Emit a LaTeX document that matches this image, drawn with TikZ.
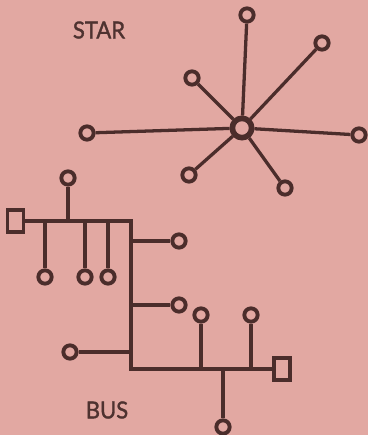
\documentclass[tikz,border=0pt]{standalone}
\usepackage{fontspec}
\setmainfont{Lato}
\newfontfamily\lblfont[FakeBold=1.5]{Lato}
\definecolor{bg}{HTML}{E2A8A2}
\definecolor{ink}{HTML}{4B2D2B}
\definecolor{txt}{HTML}{4E3230}
\begin{document}
\begin{tikzpicture}[x=0.03cm,y=-0.03cm,
  term/.style={circle,draw=ink,line width=3.3pt,minimum size=0.4cm,inner sep=0pt},
  hubnode/.style={circle,draw=ink,line width=4.8pt,minimum size=0.58cm,inner sep=0pt},
  endbox/.style={rectangle,draw=ink,line width=2.8pt,minimum width=0.48cm,minimum height=0.66cm,inner sep=0pt},
  spoke/.style={draw=ink,line width=2.8pt},
  bus/.style={draw=ink,line width=4.2pt},
  stub/.style={draw=ink,line width=2.8pt},
  lbl/.style={text=txt,font=\lblfont\fontsize{20}{24}\selectfont,xscale=0.94}]
\fill[bg] (0,0) rectangle (368,435);
\useasboundingbox (0,0) rectangle (368,435);
% labels
\node[lbl] (star) at (99,30) {STAR};
\node[lbl] (buslbl) at (107,410) {BUS};
% star
\node[hubnode] (hub) at (242,128) {};
\node[term] (t1) at (247,15) {};
\node[term] (t2) at (322,43) {};
\node[term] (t3) at (192,78) {};
\node[term] (t4) at (87,133) {};
\node[term] (t5) at (359,135) {};
\node[term] (t6) at (189,175) {};
\node[term] (t7) at (285,188) {};
\foreach \n in {t1,t2,t3,t4,t5,t6,t7} \draw[spoke] (hub) -- (\n);
% bus
\node[endbox] (lbox) at (15.5,221) {};
\node[endbox] (rbox) at (282,369) {};
\coordinate (jA) at (131,221);
\coordinate (jB) at (131,369);
\draw[bus,line join=miter] (lbox) -- (jA) -- (jB) -- (rbox);
% stubs on upper bus
\node[term] (u1) at (68,178) {};
\node[term] (d1) at (45,277) {};
\node[term] (d2) at (85,277) {};
\node[term] (d3) at (108,277) {};
\coordinate (s1) at (68,221);
\coordinate (s2) at (45,221);
\coordinate (s3) at (85,221);
\coordinate (s4) at (108,221);
\draw[stub] (s1) -- (u1);
\draw[stub] (s2) -- (d1);
\draw[stub] (s3) -- (d2);
\draw[stub] (s4) -- (d3);
% stubs on vertical bus
\node[term] (r1) at (179,241) {};
\node[term] (r2) at (179,305) {};
\node[term] (l1) at (70,352) {};
\coordinate (v1) at (131,241);
\coordinate (v2) at (131,305);
\coordinate (v3) at (131,352);
\draw[stub] (v1) -- (r1);
\draw[stub] (v2) -- (r2);
\draw[stub] (v3) -- (l1);
% stubs on lower bus
\node[term] (b1) at (201,315) {};
\node[term] (b2) at (251,315) {};
\node[term] (b3) at (223,427) {};
\coordinate (w1) at (201,369);
\coordinate (w2) at (251,369);
\coordinate (w3) at (223,369);
\draw[stub] (w1) -- (b1);
\draw[stub] (w2) -- (b2);
\draw[stub] (w3) -- (b3);
\end{tikzpicture}
\end{document}
